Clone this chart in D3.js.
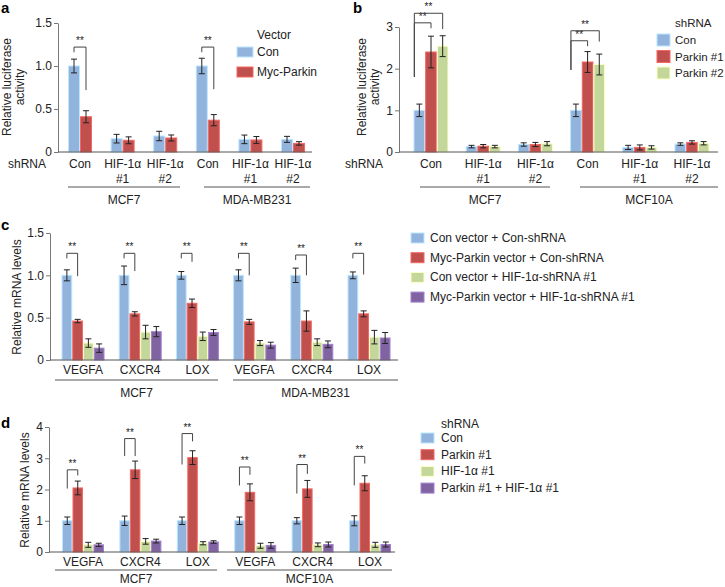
<!DOCTYPE html>
<html>
<head>
<meta charset="utf-8">
<script src="https://cdn.jsdelivr.net/npm/d3@7"></script>
<style>
  body { margin: 0; background: #fff; }
  svg { font-family: "Liberation Sans", Arial, sans-serif; }
</style>
</head>
<body>
<script>
    // colours shared by all panels
    const blue = "#92b3dc", red = "#c0504d", green = "#c4d79b", purple = "#8064a2";

    // ---- panel a ----
    const aCats = ["Con", "HIF-1α|#1", "HIF-1α|#2", "Con", "HIF-1α|#1", "HIF-1α|#2"];
    const aSeries = ["Con", "Myc-Parkin"];
    const aCon = [1.0, 0.155, 0.186, 1.0, 0.147, 0.147];
    const aConErr = [0.08, 0.05, 0.055, 0.09, 0.05, 0.035];
    const aMyc = [0.41, 0.136, 0.163, 0.37, 0.14, 0.10];
    const aMycErr = [0.07, 0.04, 0.035, 0.065, 0.04, 0.02];
    const aCells = ["MCF7", "MDA-MB231"];
    const aTicks = [0, 0.5, 1.0, 1.5];
    // [group, left series, right series, top, left leg end, right leg end]
    const aBrackets = [[0, 0, 1, 1.22, 1.16, 0.72], [3, 0, 1, 1.22, 1.16, 0.73]];

    // ---- panel b ----
    const bCats = ["Con", "HIF-1α|#1", "HIF-1α|#2", "Con", "HIF-1α|#1", "HIF-1α|#2"];
    const bSeries = ["Con", "Parkin #1", "Parkin #2"];
    const bCon = [1.0, 0.13, 0.18, 1.0, 0.11, 0.19];
    const bConErr = [0.15, 0.03, 0.04, 0.15, 0.05, 0.03];
    const bP1 = [2.4, 0.14, 0.18, 2.16, 0.11, 0.23];
    const bP1Err = [0.38, 0.04, 0.05, 0.25, 0.06, 0.04];
    const bP2 = [2.54, 0.13, 0.2, 2.1, 0.11, 0.21];
    const bP2Err = [0.25, 0.03, 0.05, 0.25, 0.04, 0.04];
    const bCells = ["MCF7", "MCF10A"];
    const bTicks = [0, 1, 2, 3];
    const bBrackets = [
        [0, 0, 1, 3.10, 1.80, 2.97], [0, 0, 2, 3.33, 1.80, 2.95],
        [3, 0, 1, 2.67, 1.97, 2.54], [3, 0, 2, 2.91, 1.97, 2.65]
    ];

    // ---- panel c ----
    const cCats = ["VEGFA", "CXCR4", "LOX", "VEGFA", "CXCR4", "LOX"];
    const cSeries = ["Con vector + Con-shRNA", "Myc-Parkin vector + Con-shRNA",
        "Con vector + HIF-1α-shRNA #1", "Myc-Parkin vector + HIF-1α-shRNA #1"];
    const cS1 = [1, 1, 1, 1, 1, 1];
    const cS1Err = [0.065, 0.11, 0.045, 0.065, 0.085, 0.04];
    const cS2 = [0.46, 0.545, 0.67, 0.45, 0.46, 0.545];
    const cS2Err = [0.02, 0.025, 0.05, 0.03, 0.12, 0.035];
    const cS3 = [0.20, 0.33, 0.28, 0.20, 0.21, 0.27];
    const cS3Err = [0.05, 0.08, 0.05, 0.03, 0.04, 0.08];
    const cS4 = [0.14, 0.335, 0.325, 0.175, 0.185, 0.26];
    const cS4Err = [0.05, 0.06, 0.035, 0.035, 0.04, 0.065];
    const cCells = ["MCF7", "MDA-MB231"];
    const cTicks = [0, 0.5, 1.0, 1.5];
    const cBrackets = [
        [0, 0, 1, 1.26, 1.2, 0.99], [1, 0, 1, 1.26, 1.2, 1.05], [2, 0, 1, 1.26, 1.2, 1.16],
        [3, 0, 1, 1.26, 1.2, 1.0], [4, 0, 1, 1.24, 1.18, 1.0], [5, 0, 1, 1.26, 1.2, 1.01]
    ];

    // ---- panel d ----
    const dCats = ["VEGFA", "CXCR4", "LOX", "VEGFA", "CXCR4", "LOX"];
    const dSeries = ["Con", "Parkin #1", "HIF-1α #1", "Parkin #1 + HIF-1α #1"];
    const dS1 = [1, 1, 1, 1, 1, 1];
    const dS1Err = [0.12, 0.15, 0.12, 0.12, 0.1, 0.16];
    const dS2 = [2.05, 2.63, 3.02, 1.91, 2.02, 2.2];
    const dS2Err = [0.22, 0.28, 0.22, 0.27, 0.27, 0.24];
    const dS3 = [0.23, 0.34, 0.28, 0.2, 0.23, 0.23];
    const dS3Err = [0.08, 0.09, 0.05, 0.08, 0.06, 0.08];
    const dS4 = [0.23, 0.35, 0.32, 0.21, 0.24, 0.24];
    const dS4Err = [0.05, 0.06, 0.04, 0.09, 0.08, 0.08];
    const dCells = ["MCF7", "MCF10A"];
    const dTicks = [0, 1, 2, 3, 4];
    const dBrackets = [
        [0, 0, 1, 2.63, 2.03, 2.45], [1, 0, 1, 3.63, 3.07, 3.07], [2, 0, 1, 3.79, 2.8, 3.54],
        [3, 0, 1, 2.72, 2.13, 2.47], [4, 0, 1, 2.8, 1.87, 2.5], [5, 0, 1, 3.06, 2.13, 2.83]
    ];

    const svg = d3.select("body").append("svg")
        .attr("width", 725)
        .attr("height", 587);

    const fmt1 = d => d === 0 ? "0" : d3.format(".1f")(d);

    function drawPanel(p) {
        const g = svg.append("g");
        const y = d3.scaleLinear().domain(p.domain).range(p.yRange);
        const x = d3.scalePoint().domain(d3.range(p.cats.length)).range(p.centers);
        const inner = d3.scaleBand().domain(d3.range(p.series.length))
            .range([-p.groupWidth / 2, p.groupWidth / 2]);
        const bw = inner.bandwidth();

        // bars
        p.series.forEach((s, si) => {
            g.selectAll(null)
                .data(s.values)
                .enter()
                .append("rect")
                .attr("x", (d, i) => x(i) + inner(si) + 0.5)
                .attr("y", d => y(d))
                .attr("width", bw - 1)
                .attr("height", d => y(0) - y(d))
                .attr("fill", s.color)
                .attr("stroke", d3.color(s.color).brighter(0.7))
                .attr("stroke-width", 1);
        });

        // error bars
        p.series.forEach((s, si) => {
            const eg = g.selectAll(null)
                .data(s.values)
                .enter()
                .append("g")
                .attr("stroke", "#222")
                .attr("stroke-width", 1);
            eg.each(function (d, i) {
                const cx = x(i) + inner(si) + bw / 2;
                const e = s.errors[i];
                const sel = d3.select(this);
                sel.append("line").attr("x1", cx).attr("x2", cx).attr("y1", y(d - e)).attr("y2", y(d + e));
                sel.append("line").attr("x1", cx - 3).attr("x2", cx + 3).attr("y1", y(d - e)).attr("y2", y(d - e));
                sel.append("line").attr("x1", cx - 3).attr("x2", cx + 3).attr("y1", y(d + e)).attr("y2", y(d + e));
            });
        });

        // y axis
        const axis = g.append("g")
            .attr("transform", `translate(${p.axisX[0]},0)`)
            .call(d3.axisLeft(y).tickValues(p.ticks).tickFormat(p.tickFormat).tickSize(4).tickSizeOuter(0));
        axis.select(".domain").attr("stroke", "#777");
        axis.selectAll(".tick line").attr("stroke", "#777");
        axis.selectAll(".tick text")
            .attr("font-size", "12px")
            .attr("fill", "#222")
            .attr("font-family", "Liberation Sans, Arial, sans-serif")
            .attr("x", -6);

        // baseline
        g.append("line")
            .attr("x1", p.axisX[0]).attr("x2", p.axisX[1])
            .attr("y1", y(0)).attr("y2", y(0))
            .attr("stroke", "#555").attr("stroke-width", 1);

        // y title
        p.yTitle.forEach((t, k) => {
            g.append("text")
                .attr("transform", `translate(${p.yTitleX[k]},${p.yTitleY}) rotate(-90)`)
                .attr("text-anchor", "middle")
                .attr("font-size", "12px")
                .attr("fill", "#222")
                .text(t);
        });

        // category labels (split on |)
        p.cats.forEach((c, i) => {
            c.split("|").forEach((line, k) => {
                g.append("text")
                    .attr("x", x(i))
                    .attr("y", p.catY + k * 15)
                    .attr("text-anchor", "middle")
                    .attr("font-size", "12px")
                    .attr("fill", "#222")
                    .text(line);
            });
        });

        // cell line groups
        p.cells.forEach((c, k) => {
            const [x0, x1] = p.cellLines[k];
            g.append("line")
                .attr("x1", x0).attr("x2", x1)
                .attr("y1", p.lineY).attr("y2", p.lineY)
                .attr("stroke", "#555").attr("stroke-width", 1);
            g.append("text")
                .attr("x", (x0 + x1) / 2)
                .attr("y", p.cellY)
                .attr("text-anchor", "middle")
                .attr("font-size", "12px")
                .attr("fill", "#222")
                .text(c);
        });

        // significance brackets
        p.brackets.forEach(b => {
            const [gi, s0, s1, top, lEnd, rEnd] = b;
            const lx = x(gi) + inner(s0) + bw / 2 + (p.legShift || 0);
            const rx = x(gi) + inner(s1) + bw / 2;
            g.append("path")
                .attr("d", `M${lx},${y(lEnd)} V${y(top)} H${rx} V${y(rEnd)}`)
                .attr("fill", "none")
                .attr("stroke", "#444")
                .attr("stroke-width", 1);
            g.append("text")
                .attr("x", (lx + rx) / 2)
                .attr("y", y(top) - 3)
                .attr("text-anchor", "middle")
                .attr("font-size", "10px")
                .attr("fill", "#222")
                .text("**");
        });

        // legend
        const lg = g.append("g");
        const lfs = p.legend.fontSize || 12;
        if (p.legendTitle) {
            lg.append("text")
                .attr("x", p.legend.textX)
                .attr("y", p.legend.titleY)
                .attr("font-size", lfs + "px")
                .attr("fill", "#222")
                .text(p.legendTitle);
        }
        p.series.forEach((s, si) => {
            const cy = p.legend.y0 + si * p.legend.step;
            lg.append("rect")
                .attr("x", p.legend.swX)
                .attr("y", cy - p.legend.swH / 2)
                .attr("width", p.legend.swW)
                .attr("height", p.legend.swH)
                .attr("fill", s.color)
                .attr("stroke", d3.color(s.color).brighter(0.7));
            lg.append("text")
                .attr("x", p.legend.textX)
                .attr("y", cy + 4)
                .attr("font-size", lfs + "px")
                .attr("fill", "#222")
                .text(s.name);
        });

        // panel letter
        g.append("text")
            .attr("x", p.letterPos[0])
            .attr("y", p.letterPos[1])
            .attr("font-size", "15px")
            .attr("font-weight", "bold")
            .attr("fill", "#000")
            .text(p.letter);

        // "shRNA" row label
        if (p.rowLabel) {
            g.append("text")
                .attr("x", p.rowLabel[0])
                .attr("y", p.catY)
                .attr("font-size", "12px")
                .attr("fill", "#222")
                .text("shRNA");
        }
    }

    drawPanel({
        letter: "a", letterPos: [1, 13],
        cats: aCats, domain: [0, 1.5], yRange: [152, 23], ticks: aTicks, tickFormat: fmt1,
        centers: [80, 293], groupWidth: 24, axisX: [58, 312],
        series: [
            { name: aSeries[0], values: aCon, errors: aConErr, color: blue },
            { name: aSeries[1], values: aMyc, errors: aMycErr, color: red }
        ],
        yTitle: ["Relative luciferase", "activity"], yTitleX: [11, 24], yTitleY: 87,
        catY: 168, rowLabel: [8], cells: aCells, cellLines: [[68, 180], [204, 310]], lineY: 187, cellY: 204,
        brackets: aBrackets,
        legendTitle: "Vector",
        legend: { swX: 237, swW: 16, swH: 10, y0: 52, step: 20, textX: 257, titleY: 39 }
    });

    drawPanel({
        letter: "b", letterPos: [353, 13],
        cats: bCats, domain: [0, 3], yRange: [152, 27], ticks: bTicks, tickFormat: d3.format("d"),
        centers: [431, 692], groupWidth: 35, axisX: [399, 718],
        series: [
            { name: bSeries[0], values: bCon, errors: bConErr, color: blue },
            { name: bSeries[1], values: bP1, errors: bP1Err, color: red },
            { name: bSeries[2], values: bP2, errors: bP2Err, color: green }
        ],
        yTitle: ["Relative luciferase", "activity"], yTitleX: [366, 379], yTitleY: 87,
        catY: 168, rowLabel: [345], cells: bCells, cellLines: [[420, 550], [580, 718]], lineY: 187, cellY: 204,
        brackets: bBrackets, legShift: -5,
        legendTitle: "shRNA",
        legend: { swX: 657, swW: 13, swH: 12, y0: 40, step: 16.5, textX: 675, titleY: 27, fontSize: 11.5 }
    });

    drawPanel({
        letter: "c", letterPos: [1, 230],
        cats: cCats, domain: [0, 1.5], yRange: [360, 233], ticks: cTicks, tickFormat: fmt1,
        centers: [83, 369], groupWidth: 43, axisX: [50, 398],
        series: [
            { name: cSeries[0], values: cS1, errors: cS1Err, color: blue },
            { name: cSeries[1], values: cS2, errors: cS2Err, color: red },
            { name: cSeries[2], values: cS3, errors: cS3Err, color: green },
            { name: cSeries[3], values: cS4, errors: cS4Err, color: purple }
        ],
        yTitle: ["Relative mRNA levels"], yTitleX: [21], yTitleY: 297,
        catY: 374, cells: cCells, cellLines: [[55, 218], [233, 398]], lineY: 380, cellY: 397,
        brackets: cBrackets,
        legend: { swX: 411, swW: 13, swH: 10, y0: 238, step: 19.7, textX: 430 }
    });

    drawPanel({
        letter: "d", letterPos: [1, 428],
        cats: dCats, domain: [0, 4], yRange: [552, 427], ticks: dTicks, tickFormat: d3.format("d"),
        centers: [83, 370], groupWidth: 42, axisX: [49, 395],
        series: [
            { name: dSeries[0], values: dS1, errors: dS1Err, color: blue },
            { name: dSeries[1], values: dS2, errors: dS2Err, color: red },
            { name: dSeries[2], values: dS3, errors: dS3Err, color: green },
            { name: dSeries[3], values: dS4, errors: dS4Err, color: purple }
        ],
        yTitle: ["Relative mRNA levels"], yTitleX: [29], yTitleY: 490,
        catY: 566, cells: dCells, cellLines: [[55, 217], [227, 392]], lineY: 570, cellY: 583,
        brackets: dBrackets,
        legendTitle: "shRNA",
        legend: { swX: 421, swW: 13, swH: 10, y0: 438, step: 16.7, textX: 441, titleY: 428 }
    });
</script>
</body>
</html>
